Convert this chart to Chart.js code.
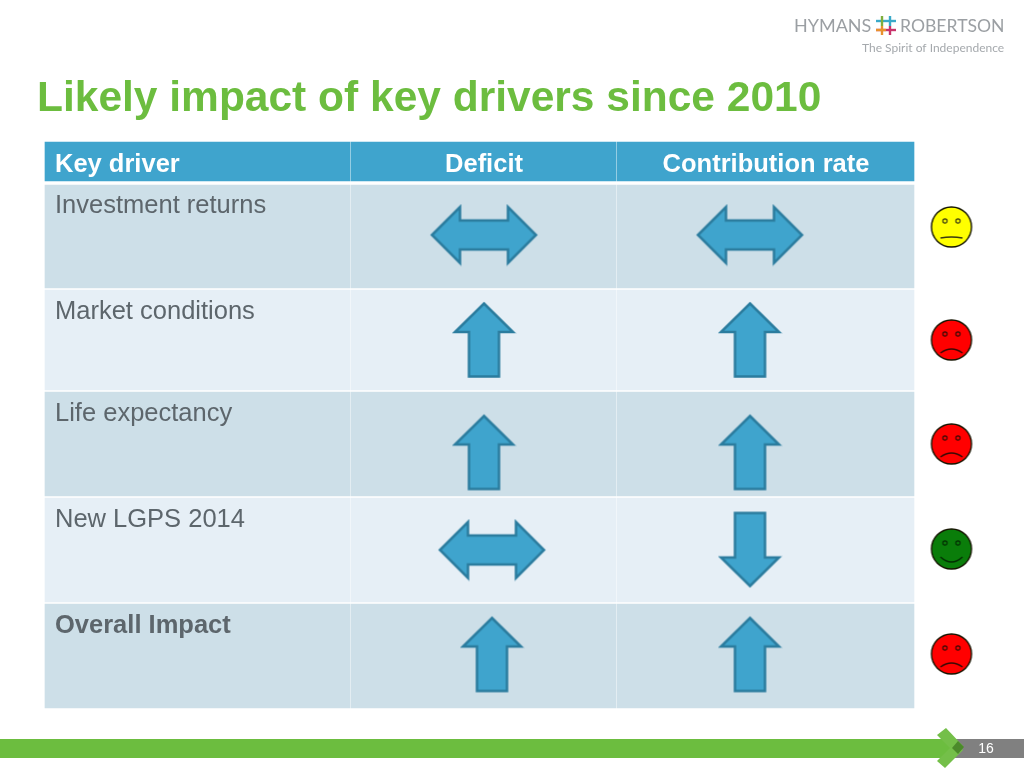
<!DOCTYPE html>
<html>
<head>
<meta charset="utf-8">
<title>Likely impact of key drivers since 2010</title>
<script src="https://cdn.jsdelivr.net/npm/chart.js@4/dist/chart.umd.min.js"></script>
<style>
  html, body { margin: 0; padding: 0; background: #fff; }
  canvas { display: block; }
</style>
</head>
<body>
<canvas id="slide" width="1024" height="768"></canvas>
<script>
// the table
const chartTitle = 'Likely impact of key drivers since 2010';
const columns = ['Key driver', 'Deficit', 'Contribution rate'];
const drivers = ['Investment returns', 'Market conditions', 'Life expectancy', 'New LGPS 2014', 'Overall Impact'];
// 1 = up, 0 = both ways, -1 = down
const deficitImpact = [0, 1, 1, 0, 1];
const contributionImpact = [0, 1, 1, -1, 1];
// 1 = happy, 0 = neutral, -1 = sad
const moods = [0, -1, -1, 1, -1];
const pageNumber = '16';

// where things sit on the slide, the axes below run in slide units
const columnEdges = [[45, 350], [351, 616], [617, 914]];
const headerEdge = [142, 181];
const rowEdges = [[185, 288], [290, 390], [392, 496], [498, 602], [604, 708]];
const rowTextY = [213, 319, 421, 527, 633];
const deficitX = [484, 484, 484, 492, 492];
const contributionX = [750, 750, 750, 750, 750];
const arrowY = [235, 339.5, 452, 550, 654];
const faceX = 951.5;
const faceY = [227, 340, 444, 549, 654];

const BLUE = '#3fa4cd';
const ROW_DARK = '#cddfe8';
const ROW_LIGHT = '#e6eff6';
const ARROW_EDGE = '#2b7c9e';
const GREEN = '#6cbd3f';
const TEXT = '#5d666c';

function makeCanvas(w, h, draw) {
    const c = document.createElement('canvas');
    c.width = w;
    c.height = h;
    draw(c.getContext('2d'));
    return c;
}

function arrowImage(impact) {
    const flat = impact === 0;
    const w = flat ? 111 : 65;
    const h = flat ? 63 : 79;
    return makeCanvas(w, h, ctx => {
        ctx.translate(w / 2, h / 2);
        if (impact === -1) ctx.scale(1, -1);
        ctx.beginPath();
        if (flat) {
            [[-52, 0], [-24, -28], [-24, -14.5], [24, -14.5], [24, -28], [52, 0], [24, 28], [24, 14.5], [-24, 14.5], [-24, 28]]
                .forEach((p, i) => i ? ctx.lineTo(p[0], p[1]) : ctx.moveTo(p[0], p[1]));
        } else {
            [[0, -36], [29, -7.5], [15, -7.5], [15, 37], [-15, 37], [-15, -7.5], [-29, -7.5]]
                .forEach((p, i) => i ? ctx.lineTo(p[0], p[1]) : ctx.moveTo(p[0], p[1]));
        }
        ctx.closePath();
        ctx.fillStyle = BLUE;
        ctx.fill();
        ctx.lineWidth = 2.5;
        ctx.lineJoin = 'miter';
        ctx.strokeStyle = ARROW_EDGE;
        ctx.stroke();
    });
}

function faceImage(mood) {
    const fill = mood > 0 ? '#0a7d0a' : mood < 0 ? '#ff0000' : '#ffff00';
    const ink = mood > 0 ? '#032f03' : mood < 0 ? '#3a0a05' : '#3a3a10';
    return makeCanvas(44, 44, ctx => {
        ctx.translate(22, 22);
        ctx.strokeStyle = '#141400';
        ctx.lineWidth = 1.4;
        ctx.fillStyle = fill;
        ctx.beginPath();
        ctx.arc(0, 0, 20, 0, Math.PI * 2);
        ctx.fill();
        ctx.stroke();
        ctx.lineWidth = 1.2;
        ctx.strokeStyle = ink;
        [-6.5, 6.5].forEach(dx => {
            ctx.beginPath();
            ctx.arc(dx, -6, 2.1, 0, Math.PI * 2);
            ctx.stroke();
        });
        ctx.lineWidth = 1.4;
        ctx.beginPath();
        const endY = mood > 0 ? 8 : mood < 0 ? 13 : 11;
        const ctrlY = mood > 0 ? 18 : mood < 0 ? 5 : 9;
        ctx.moveTo(-11, endY);
        ctx.quadraticCurveTo(0, ctrlY, 11, endY);
        ctx.stroke();
    });
}

// one dataset of floating bars per table row, bar height differs by row
function rowDataset(edge, colour) {
    return {
        type: 'bar',
        indexAxis: 'y',
        grouped: false,
        order: 5,
        barThickness: edge[1] - edge[0],
        backgroundColor: colour,
        data: columnEdges.map(c => ({ x: c, y: (edge[0] + edge[1]) / 2 }))
    };
}

function markDataset(xs, ys, styles) {
    return {
        type: 'scatter',
        order: 1,
        pointStyle: styles,
        pointRadius: 20,
        pointHoverRadius: 20,
        data: ys.map((y, i) => ({ x: xs[i], y: y }))
    };
}

const datasets = [
    rowDataset(headerEdge, BLUE),
    ...rowEdges.map((e, i) => rowDataset(e, i % 2 ? ROW_LIGHT : ROW_DARK)),
    markDataset(deficitX, arrowY, deficitImpact.map(arrowImage)),
    markDataset(contributionX, arrowY, contributionImpact.map(arrowImage)),
    markDataset(drivers.map(() => faceX), faceY, moods.map(faceImage))
];

function polygon(ctx, pts, fill) {
    ctx.beginPath();
    pts.forEach((p, i) => i ? ctx.lineTo(p[0], p[1]) : ctx.moveTo(p[0], p[1]));
    ctx.closePath();
    ctx.fillStyle = fill;
    ctx.fill();
}

function drawLogo(ctx) {
    ctx.textAlign = 'left';
    ctx.fillStyle = '#9b9fa3';
    ctx.font = '18px Lato';
    ctx.fillText('HYMANS', 794, 32);
    ctx.font = '17.6px Lato';
    ctx.fillText('ROBERTSON', 900, 32);
    ctx.font = '12px Lato';
    ctx.fillStyle = '#a5a9ad';
    ctx.fillText('The Spirit of Independence', 862, 52);
    const seg = (x1, y1, x2, y2, colour) => {
        ctx.strokeStyle = colour;
        ctx.lineWidth = 2.4;
        ctx.beginPath();
        ctx.moveTo(x1, y1);
        ctx.lineTo(x2, y2);
        ctx.stroke();
    };
    seg(876, 21, 896, 21, '#3aa9c9');
    seg(876, 30, 896, 30, '#c8336b');
    seg(876, 30, 886, 30, '#e8912d');
    seg(882, 16, 882, 26, '#7fae3c');
    seg(882, 26, 882, 35, '#e8912d');
    seg(890, 16, 890, 26, '#3aa9c9');
    seg(890, 26, 890, 35, '#c8336b');
}

function drawFooter(ctx) {
    ctx.fillStyle = GREEN;
    ctx.fillRect(0, 739, 950, 19);
    ctx.fillStyle = '#808080';
    ctx.fillRect(950, 739, 74, 19);
    polygon(ctx, [[937, 735], [946, 728], [963, 746], [955, 753]], '#74bf49');
    polygon(ctx, [[937, 761], [945, 768], [963, 750], [955, 743]], '#74bf49');
    polygon(ctx, [[952, 748], [958, 741], [964, 747], [958, 754]], '#4b8a2a');
    ctx.fillStyle = '#fff';
    ctx.font = '14px "Liberation Sans"';
    ctx.textAlign = 'center';
    ctx.fillText(pageNumber, 986, 753);
}

const slideText = {
    id: 'slideText',
    afterDatasetsDraw(chart) {
        const ctx = chart.ctx;
        const sx = chart.scales.x;
        const sy = chart.scales.y;
        ctx.save();
        ctx.textBaseline = 'alphabetic';

        ctx.fillStyle = GREEN;
        ctx.textAlign = 'left';
        ctx.font = 'bold 42.5px "Liberation Sans"';
        ctx.fillText(chartTitle, sx.getPixelForValue(37), sy.getPixelForValue(111));

        ctx.fillStyle = '#fff';
        ctx.font = 'bold 25.5px "Liberation Sans"';
        ctx.fillText(columns[0], sx.getPixelForValue(55), sy.getPixelForValue(172));
        ctx.textAlign = 'center';
        ctx.fillText(columns[1], sx.getPixelForValue(484), sy.getPixelForValue(172));
        ctx.fillText(columns[2], sx.getPixelForValue(766), sy.getPixelForValue(172));

        ctx.textAlign = 'left';
        ctx.fillStyle = TEXT;
        drivers.forEach((d, i) => {
            ctx.font = (i === drivers.length - 1 ? 'bold ' : '') + '25.5px "Liberation Sans"';
            ctx.fillText(d, sx.getPixelForValue(55), sy.getPixelForValue(rowTextY[i]));
        });

        drawLogo(ctx);
        drawFooter(ctx);
        ctx.restore();
    }
};

new Chart(document.getElementById('slide'), {
    type: 'bar',
    data: { datasets: datasets },
    plugins: [slideText],
    options: {
        responsive: false,
        animation: false,
        layout: { padding: 0, autoPadding: false },
        plugins: { legend: { display: false }, tooltip: { enabled: false } },
        scales: {
            x: { type: 'linear', display: false, min: 0, max: 1024, offset: false },
            y: { type: 'linear', display: false, min: 0, max: 768, reverse: true, offset: false }
        }
    }
});
</script>
</body>
</html>
